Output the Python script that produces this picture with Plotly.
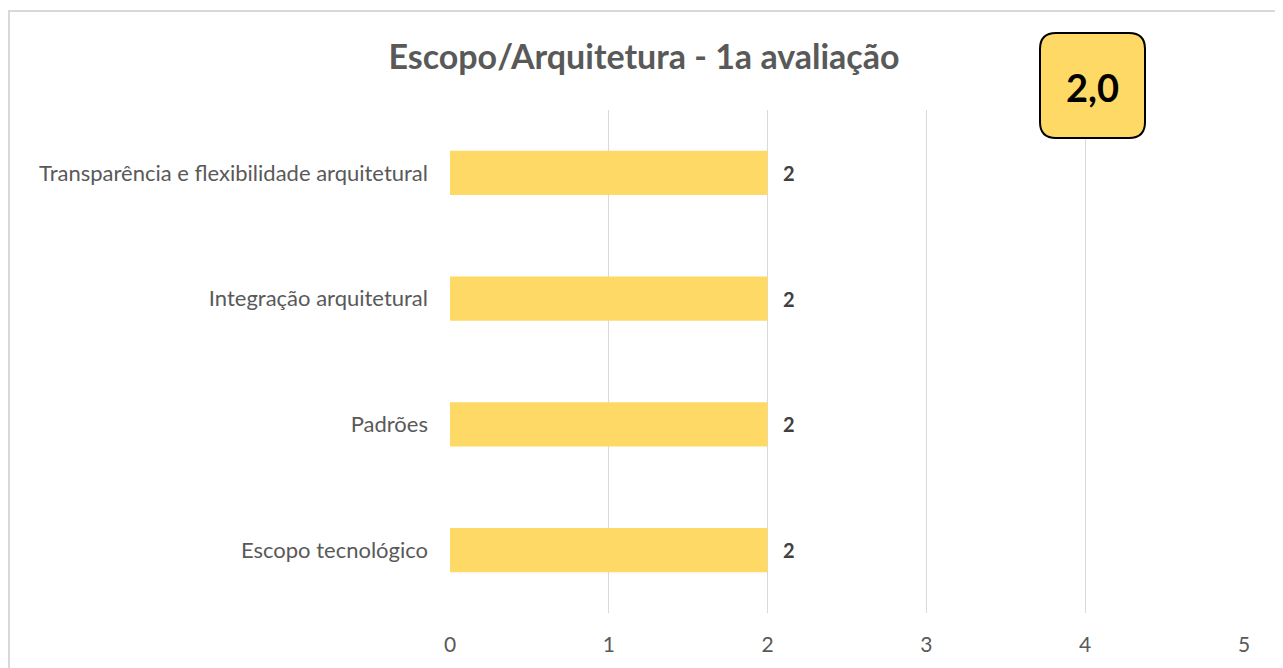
import plotly.graph_objects as go

categories = ["Escopo tecnológico", "Padrões", "Integração arquitetural",
              "Transparência e flexibilidade arquitetural"]
values = [2, 2, 2, 2]
tick_vals = [0, 1, 2, 3, 4, 5]
score_label = "2,0"
title_text = "Escopo/Arquitetura - 1a avaliação"

FONT = "Lato"
GOLD = "#FFD966"
GRAY = "#595959"

W, H = 1283, 668
# plot area in figure pixel coords (page has 8px body margin)
PL, PR, PT, PB = 442, 1236, 102, 605
PW, PH = PR - PL, PB - PT

def px(x): return (x - PL) / PW
def py(y): return (PB - y) / PH

fig = go.Figure()
fig.add_trace(go.Bar(
    y=categories, x=values, orientation="h",
    marker=dict(color=GOLD, line=dict(width=0)),
    hoverinfo="skip",
))

for c, v in zip(categories, values):
    fig.add_annotation(x=v, y=c, xref="x", yref="y", text=f"<b>{v}</b>",
                       showarrow=False, xanchor="left", yanchor="middle", xshift=13,
                       font=dict(family=FONT, size=20, color="#404040"))

# rounded box with score
x0p, x1p, y0p, y1p = 1032, 1137, 25, 130
r = 16
path = (f"M {px(x0p+r)},{py(y0p)} L {px(x1p-r)},{py(y0p)} "
        f"Q {px(x1p)},{py(y0p)} {px(x1p)},{py(y0p+r)} "
        f"L {px(x1p)},{py(y1p-r)} Q {px(x1p)},{py(y1p)} {px(x1p-r)},{py(y1p)} "
        f"L {px(x0p+r)},{py(y1p)} Q {px(x0p)},{py(y1p)} {px(x0p)},{py(y1p-r)} "
        f"L {px(x0p)},{py(y0p+r)} Q {px(x0p)},{py(y0p)} {px(x0p+r)},{py(y0p)} Z")

fig.update_layout(
    width=W, height=H,
    margin=dict(l=PL, r=W - PR, t=PT, b=H - PB),
    paper_bgcolor="white", plot_bgcolor="white",
    bargap=0.65, showlegend=False,
    title=dict(text=f"<b>{title_text}</b>", x=636 / W, xanchor="center",
               y=1 - 49 / H, yanchor="middle",
               font=dict(family=FONT, size=34, color=GRAY)),
    xaxis=dict(range=[0, 5], tickvals=tick_vals, showgrid=True,
               gridcolor="#D9D9D9", gridwidth=1, zeroline=False,
               showline=False, ticks="", ticklabelstandoff=17,
               tickfont=dict(family=FONT, size=21, color=GRAY)),
    yaxis=dict(showgrid=False, zeroline=False, showline=False, ticks="",
               ticklabelstandoff=21,
               tickfont=dict(family=FONT, size=22, color=GRAY)),
    shapes=[
        dict(type="rect", xref="paper", yref="paper",
             x0=px(1), x1=px(1271), y0=py(700), y1=py(3),
             line=dict(color="#D9D9D9", width=2), fillcolor="rgba(0,0,0,0)",
             layer="below"),
        dict(type="path", xref="paper", yref="paper", path=path,
             fillcolor=GOLD, line=dict(color="black", width=2), layer="above"),
    ],
)
fig.add_annotation(x=px((x0p + x1p) / 2), y=py((y0p + y1p) / 2 + 1),
                   xref="paper", yref="paper", xanchor="center", yanchor="middle",
                   text=f"<b>{score_label}</b>", showarrow=False,
                   font=dict(family=FONT, size=38, color="black"))

fig.write_html("out.html")
